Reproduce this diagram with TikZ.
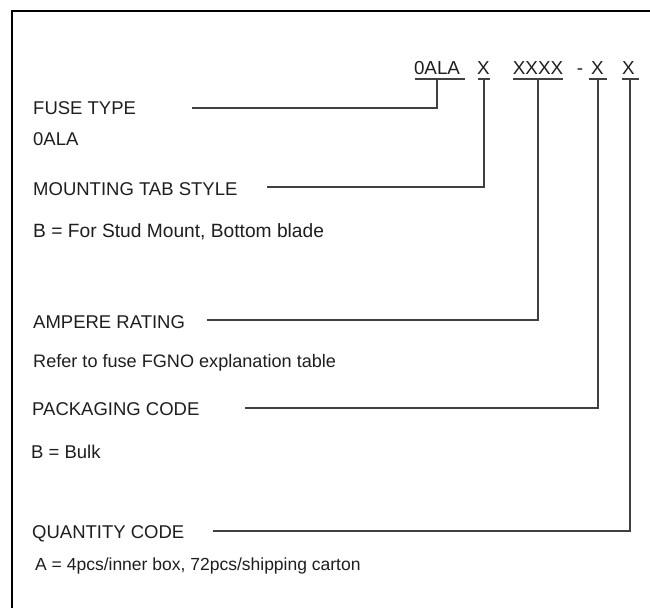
\documentclass[tikz,border=0pt]{standalone}
\usepackage{fontspec}
\setmainfont{Liberation Sans}
\definecolor{inkc}{HTML}{1E1E1E}
\definecolor{linec}{HTML}{404040}
\begin{document}
\begin{tikzpicture}[x=1pt,y=-1pt,
  lbl/.style={anchor=base west,inner sep=0pt,text=inkc,font=\fontsize{18.5}{22}\selectfont},
  codetxt/.style={anchor=base,inner sep=0pt,text=inkc,font=\fontsize{18.8}{22}\selectfont},
  conn/.style={draw=linec,line width=1.5pt},
  uline/.style={draw=linec,line width=1.5pt},
  frame/.style={draw=black,line width=2.5pt}]
\useasboundingbox (0,0) rectangle (650,608);
% frame (top and left edges only)
\draw[frame] (12,608) -- (12,11) -- (650,11);
% part number
\node[codetxt] (c1) at (437,74) {0ALA};
\node[codetxt] (c2) at (483.5,74) {X};
\node[codetxt] (c3) at (538,74) {XXXX};
\node[codetxt] (c4) at (580,74) {-};
\node[codetxt] (c5) at (597.5,74) {X};
\node[codetxt] (c6) at (628.5,74) {X};
% underlines
\coordinate (u1) at (437,79);
\coordinate (u2) at (484,79);
\coordinate (u3) at (538,79);
\coordinate (u4) at (598,79);
\coordinate (u5) at (630,79);
\draw[uline] (415,79) -- (465,79);
\draw[uline] (478,79) -- (490,79);
\draw[uline] (513,79) -- (563,79);
\draw[uline] (589,79) -- (607,79);
\draw[uline] (622,79) -- (639,79);
% labels
\node[lbl] (h1) at (33,114.5) {FUSE TYPE};
\node[lbl] (d1) at (33,145) {0ALA};
\node[lbl] (h2) at (33,195) {MOUNTING TAB STYLE};
\node[lbl,font=\fontsize{19.2}{22}\selectfont] (d2) at (33,237) {B = For Stud Mount, Bottom blade};
\node[lbl] (h3) at (33,328) {AMPERE RATING};
\node[lbl,font=\fontsize{18.1}{22}\selectfont] (d3) at (33,367) {Refer to fuse FGNO explanation table};
\node[lbl] (h4) at (32,415) {PACKAGING CODE};
\node[lbl] (d4) at (31,458) {B = Bulk};
\node[lbl] (h5) at (32,538) {QUANTITY CODE};
\node[lbl,font=\fontsize{17.5}{22}\selectfont] (d5) at (35,570) {A = 4pcs/inner box, 72pcs/shipping carton};
% connector starts
\coordinate (s1) at (192,108);
\coordinate (s2) at (267,187);
\coordinate (s3) at (207,320);
\coordinate (s4) at (245,408);
\coordinate (s5) at (213,531);
% connectors
\draw[conn] (s1) -| (u1);
\draw[conn] (s2) -| (u2);
\draw[conn] (s3) -| (u3);
\draw[conn] (s4) -| (u4);
\draw[conn] (s5) -| (u5);
\end{tikzpicture}
\end{document}
